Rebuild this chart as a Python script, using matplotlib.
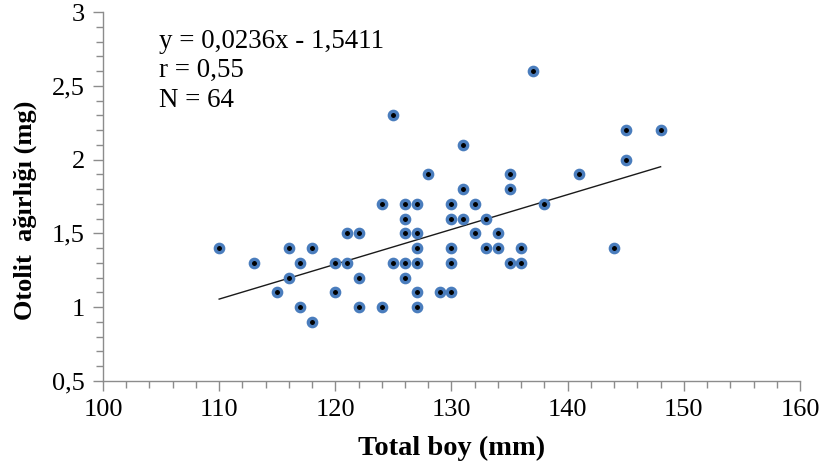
import numpy as np
import matplotlib
matplotlib.use("Agg")
import matplotlib.pyplot as plt
from matplotlib.ticker import MultipleLocator

plt.rcParams['font.family'] = ['Liberation Serif', 'DejaVu Serif']

# Otolit ağırlığı - total boy verileri
boy = [110, 113, 115, 116, 116, 117, 117, 118, 118, 120, 120, 121, 121,
       122, 122, 122, 124, 124, 125, 125,
       126, 126, 126, 126, 126,
       127, 127, 127, 127, 127, 127,
       128, 129,
       130, 130, 130, 130, 130,
       131, 131, 131, 132, 132, 133, 133, 134, 134,
       135, 135, 135, 136, 136, 137, 138, 141, 144, 145, 145, 148]
agirlik = [1.4, 1.3, 1.1, 1.4, 1.2, 1.3, 1.0, 1.4, 0.9, 1.3, 1.1, 1.5, 1.3,
           1.5, 1.2, 1.0, 1.7, 1.0, 2.3, 1.3,
           1.7, 1.6, 1.5, 1.3, 1.2,
           1.7, 1.5, 1.4, 1.3, 1.1, 1.0,
           1.9, 1.1,
           1.7, 1.6, 1.4, 1.3, 1.1,
           2.1, 1.8, 1.6, 1.7, 1.5, 1.6, 1.4, 1.5, 1.4,
           1.9, 1.8, 1.3, 1.4, 1.3, 2.6, 1.7, 1.9, 1.4, 2.2, 2.0, 2.2]

# regresyon: y = 0,0236x - 1,5411
egim = 0.0236
kesim = -1.5411

y_ticks = [0.5, 1, 1.5, 2, 2.5, 3]
y_tick_labels = ["0,5", "1", "1,5", "2", "2,5", "3"]
x_ticks = [100, 110, 120, 130, 140, 150, 160]

fig = plt.figure(figsize=(8.2, 4.7), dpi=100)
ax = fig.add_axes([0.1256, 0.1894, 0.85, 0.785])

ax.plot(boy, agirlik, linestyle="none", marker="o", markersize=6.0,
        markerfacecolor="black", markeredgecolor="#4a7dbd",
        markeredgewidth=2.4, zorder=3)

x_fit = np.array([min(boy), max(boy)])
ax.plot(x_fit, egim * x_fit + kesim, color="#1a1a1a", lw=1.0, zorder=2)

ax.set_xlim(100, 160)
ax.set_ylim(0.5, 3)
ax.set_xticks(x_ticks)
ax.set_yticks(y_ticks)
ax.set_yticklabels(y_tick_labels)
ax.xaxis.set_minor_locator(MultipleLocator(2))
ax.yaxis.set_minor_locator(MultipleLocator(0.1))

for s in ["top", "right"]:
    ax.spines[s].set_visible(False)
for s in ["left", "bottom"]:
    ax.spines[s].set_color("#8c8c8c")
    ax.spines[s].set_linewidth(1.0)

ax.tick_params(which="major", direction="out", length=7, width=1.0,
               color="#8c8c8c", labelsize=19, pad=6)
ax.tick_params(which="minor", direction="out", length=5, width=1.0,
               color="#8c8c8c")

ax.set_xlabel("Total boy (mm)", fontsize=20.5, fontweight="bold", labelpad=11)
ax.set_ylabel("Otolit  ağırlığı (mg)", fontsize=19, fontweight="bold")
ax.yaxis.set_label_coords(-0.094, 0.463)

ax.text(0.08, 0.955, "y = 0,0236x - 1,5411\nr = 0,55\nN = 64",
        transform=ax.transAxes, fontsize=19.4, va="top", ha="left",
        linespacing=1.25)

fig.savefig("out.png", dpi=100)
